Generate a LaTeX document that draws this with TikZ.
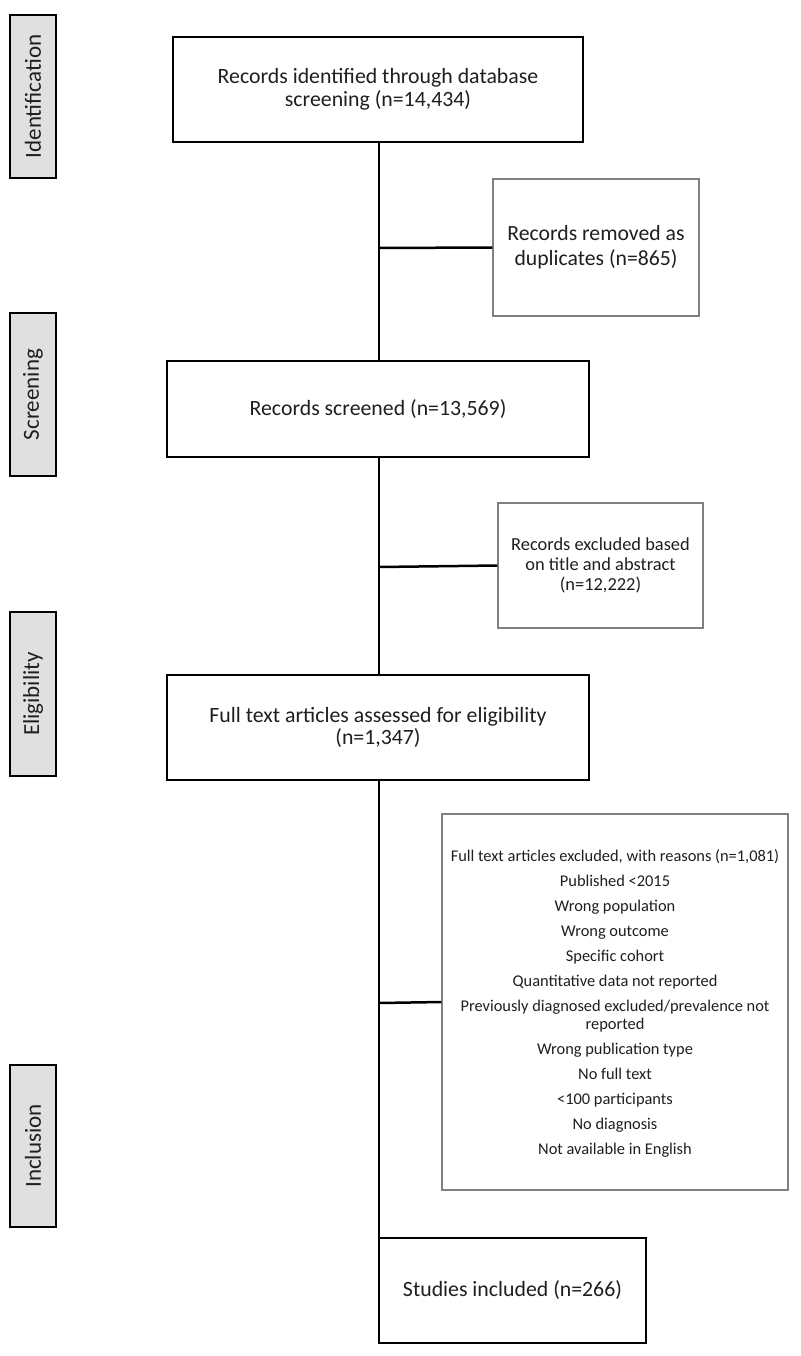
\documentclass[tikz,border=0pt]{standalone}
\usepackage{fontspec}
\setmainfont{Carlito}
\begin{document}
\begin{tikzpicture}[x=1pt,y=-1pt,
  mainbox/.style={draw=black,line width=2pt,fill=white,align=center,inner sep=0pt,text=black!88,font=\fontsize{21.8}{22.8}\selectfont},
  sidebox/.style={draw=black,line width=1.6pt,fill=black!12,inner sep=0pt,minimum width=46pt,text=black!88,font=\fontsize{23}{26}\selectfont},
  exbox/.style={draw=black!50,line width=1.2pt,fill=white,align=center,inner sep=0pt,text=black!88},
  conn/.style={line width=2.5pt,black}]
\useasboundingbox (0,0) rectangle (800,1356);
% side labels
\node[sidebox,minimum height=163pt] (sid) at (33,96.5) {\rotatebox{90}{Identification}};
\node[sidebox,minimum height=163pt] (sscr) at (33,394.5) {\rotatebox{90}{Screening}};
\node[sidebox,minimum height=164pt] (seli) at (33,694) {\rotatebox{90}{Eligibility}};
\node[sidebox,minimum height=162pt] (sinc) at (33,1146) {\rotatebox{90}{Inclusion}};
% junction coordinates
\coordinate (j1) at (379,248);
\coordinate (j2) at (379,567);
\coordinate (j3) at (379,1003);
\coordinate (jend) at (379,1291);
% main boxes
\node[mainbox,minimum width=410pt,minimum height=105pt] (rec) at (378,89.5) {Records identified through database\\screening (n=14,434)};
\node[mainbox,minimum width=422pt,minimum height=96pt] (scr) at (378,409) {Records screened (n=13,569)};
\node[mainbox,minimum width=422pt,minimum height=105pt] (full) at (378,727.5) {Full text articles assessed for eligibility\\(n=1,347)};
\node[mainbox,minimum width=267pt,minimum height=105pt] (inc) at (512.5,1290.5) {Studies included (n=266)};
% exclusion boxes
\node[exbox,minimum width=206pt,minimum height=137pt,font=\fontsize{21.7}{25}\selectfont] (dup) at (596,247.5) {Records removed as\\duplicates (n=865)};
\node[exbox,minimum width=205pt,minimum height=125pt,font=\fontsize{18.4}{20}\selectfont] (tit) at (600.5,565.5) {Records excluded based\\on title and abstract\\(n=12,222)};
\node[exbox,minimum width=346pt,minimum height=376pt] (ftx) at (615,1002) {};
\node[align=center,text=black!88,font=\fontsize{16.4}{18}\selectfont,anchor=north] (ftxt) at (615,846) {%
Full text articles excluded, with reasons (n=1,081)\\[7pt]
Published <2015\\[7pt]
Wrong population\\[7pt]
Wrong outcome\\[7pt]
Specific cohort\\[7pt]
Quantitative data not reported\\[7pt]
Previously diagnosed excluded/prevalence not\\
reported\\[7pt]
Wrong publication type\\[7pt]
No full text\\[7pt]
<100 participants\\[7pt]
No diagnosis\\[7pt]
Not available in English};
% connectors
\draw[conn] (rec.south -| j1) -- (scr.north -| j1);
\draw[conn] (scr.south -| j1) -- (full.north -| j1);
\draw[conn] (full.south -| j1) -- (jend);
\draw[conn] (j1) -- (dup.west);
\draw[conn] (j2) -- (tit.west);
\draw[conn] (j3) -- (ftx.west);
\end{tikzpicture}
\end{document}
